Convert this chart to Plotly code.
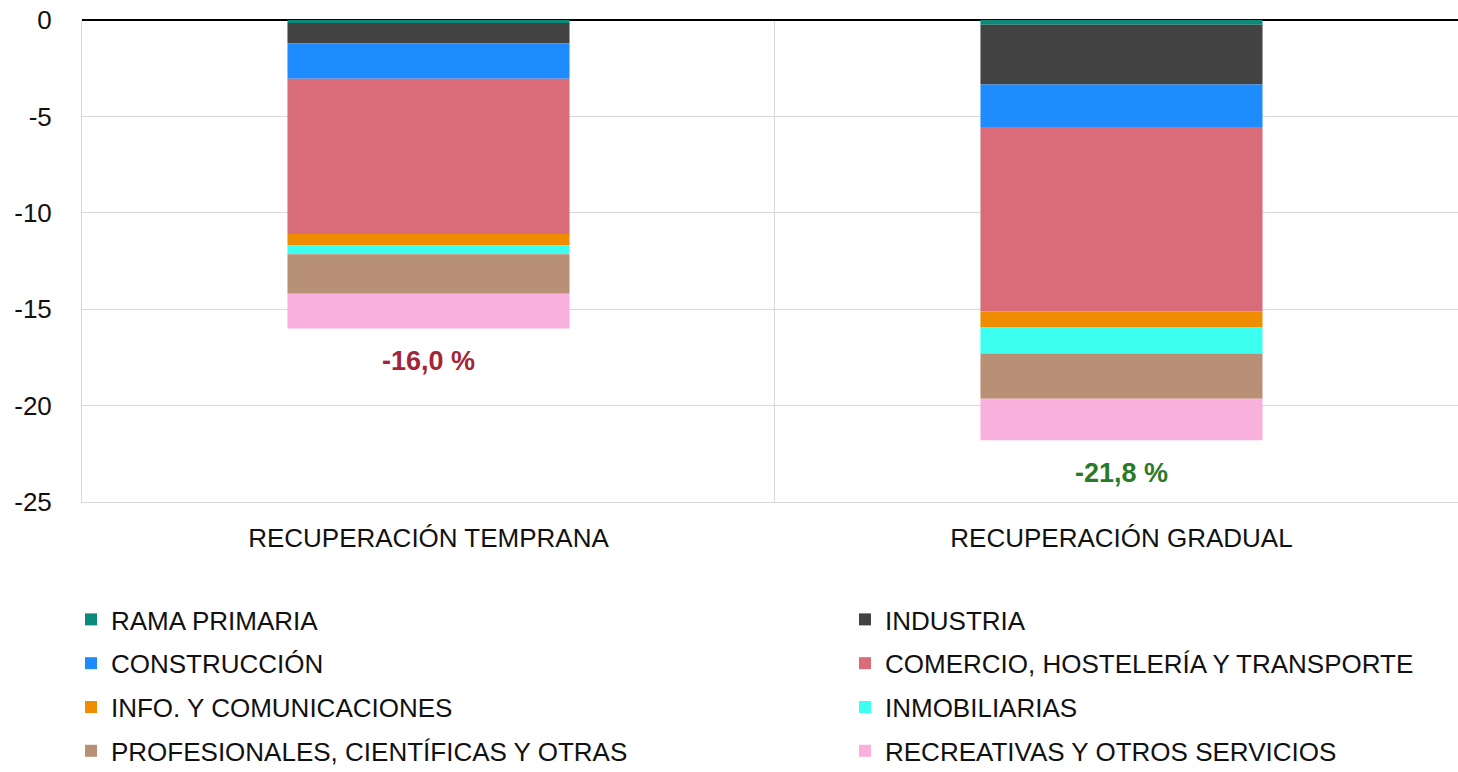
import plotly.graph_objects as go

categories = ["RECUPERACIÓN TEMPRANA", "RECUPERACIÓN GRADUAL"]
series_names = [
    "RAMA PRIMARIA", "INDUSTRIA", "CONSTRUCCIÓN", "COMERCIO, HOSTELERÍA Y TRANSPORTE",
    "INFO. Y COMUNICACIONES", "INMOBILIARIAS", "PROFESIONALES, CIENTÍFICAS Y OTRAS",
    "RECREATIVAS Y OTROS SERVICIOS",
]
rama_primaria = [-0.15, -0.25]
industria = [-1.05, -3.10]
construccion = [-1.85, -2.20]
comercio = [-8.05, -9.55]
info_com = [-0.60, -0.85]
inmobiliarias = [-0.45, -1.35]
profesionales = [-2.05, -2.35]
recreativas = [-1.80, -2.15]
totals = [-16.0, -21.8]
total_labels = ["-16,0 %", "-21,8 %"]
y_ticks = [0, -5, -10, -15, -20, -25]

series_values = [rama_primaria, industria, construccion, comercio,
                 info_com, inmobiliarias, profesionales, recreativas]
colors = ["#0b8a7b", "#424242", "#1e8cff", "#da6b78",
          "#f08c00", "#3cfff0", "#b89076", "#f9b0dc"]
legend_ids = ["legend", "legend2"] * 4

FONT = "Liberation Sans, Arial, sans-serif"

fig = go.Figure()
for i, (name, vals, col) in enumerate(zip(series_names, series_values, colors)):
    fig.add_trace(go.Bar(
        x=categories, y=vals, name=name,
        marker=dict(color=col, line=dict(width=0)),
        width=0.407,
        legend=legend_ids[i], legendgroup=name,
    ))

ann_colors = ["#a32638", "#2b7a2b"]
for c, t, lab, ac in zip(categories, totals, total_labels, ann_colors):
    fig.add_annotation(x=c, y=t, text="<b>" + lab + "</b>", showarrow=False,
                       yanchor="top", yshift=-16,
                       font=dict(size=27, color=ac, family=FONT))

legend_common = dict(
    orientation="v", yanchor="top", xanchor="left",
    xref="paper", yref="container",
    font=dict(size=26, color="#111111", family=FONT),
    tracegroupgap=7, bgcolor="rgba(0,0,0,0)", itemwidth=30,
    traceorder="grouped",
)

fig.update_layout(
    width=1458, height=772,
    margin=dict(l=82, r=0, t=20, b=270),
    paper_bgcolor="white", plot_bgcolor="white",
    barmode="relative",
    showlegend=True,
    font=dict(family=FONT, size=26, color="#111111"),
    legend=dict(x=-0.008, y=0.228, **legend_common),
    legend2=dict(x=0.5545, y=0.228, **legend_common),
    xaxis=dict(
        type="category", range=[-0.5, 1.4856],
        tickson="boundaries", showgrid=True, gridcolor="#d9d9d9", gridwidth=1,
        ticks="", showline=True, linecolor="#d9d9d9", linewidth=1, zeroline=False,
        tickfont=dict(size=26, color="#111111", family=FONT),
        ticklabelstandoff=13,
    ),
    yaxis=dict(
        range=[-25, 0], tickvals=y_ticks, ticktext=[str(v) for v in y_ticks],
        showgrid=True, gridcolor="#d9d9d9", gridwidth=1,
        zeroline=True, zerolinecolor="#000000", zerolinewidth=1.5,
        showline=True, linecolor="#d9d9d9", linewidth=1, ticks="",
        tickfont=dict(size=26, color="#111111", family=FONT),
        ticklabelstandoff=24,
    ),
)

fig.write_html(
    "out.html",
    config={"displayModeBar": False},
    post_script="document.body.style.margin='0';document.body.style.overflow='hidden';",
)
